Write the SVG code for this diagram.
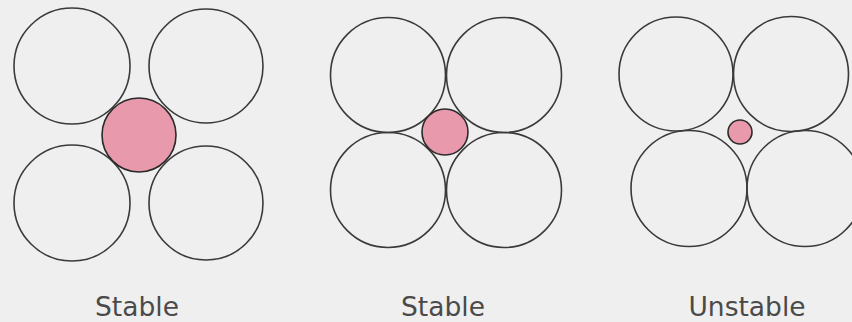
<svg xmlns="http://www.w3.org/2000/svg" width="852" height="322" viewBox="0 0 852 322">
<style>
.big{fill:none;stroke:#3a3a3a;stroke-width:1.6}
.atom{fill:#e89aac;stroke:#2a2a2a;stroke-width:1.6}
.lbl{font-family:"DejaVu Sans",sans-serif;font-size:26.5px;fill:#4a4a4a;text-anchor:middle}
</style>
<rect width="852" height="322" fill="#efefef"/>
<g id="panel1">
<circle class="big" cx="72" cy="66" r="58"/>
<circle class="big" cx="206" cy="66" r="57"/>
<circle class="big" cx="72" cy="203" r="58"/>
<circle class="big" cx="206" cy="203" r="57"/>
<circle class="atom" cx="139" cy="135" r="37"/>
<text class="lbl" x="137" y="316">Stable</text>
</g>
<g id="panel2">
<circle class="big" cx="388" cy="75" r="57.5"/>
<circle class="big" cx="504" cy="75" r="57.5"/>
<circle class="big" cx="388" cy="190" r="57.5"/>
<circle class="big" cx="504" cy="190" r="57.5"/>
<circle class="atom" cx="445" cy="132" r="23"/>
<text class="lbl" x="443" y="316">Stable</text>
</g>
<g id="panel3">
<circle class="big" cx="676" cy="74" r="57"/>
<circle class="big" cx="791" cy="74" r="57.5"/>
<circle class="big" cx="689" cy="188.5" r="58"/>
<circle class="big" cx="805" cy="188.5" r="58"/>
<circle class="atom" cx="740" cy="132" r="12"/>
<text class="lbl" x="747" y="316">Unstable</text>
</g>
</svg>
